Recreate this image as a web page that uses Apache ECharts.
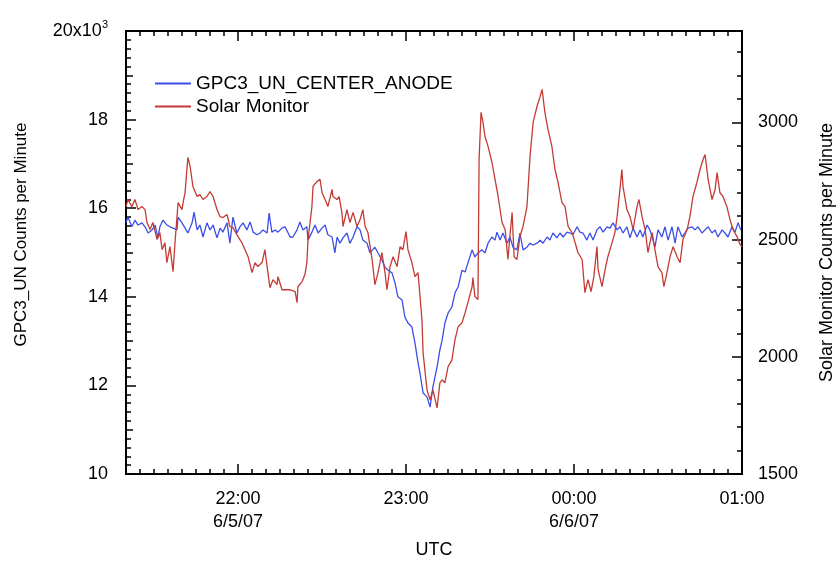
<!DOCTYPE html>
<html>
<head>
<meta charset="utf-8">
<script src="https://cdn.jsdelivr.net/npm/echarts@6/dist/echarts.min.js"></script>
<style>html,body{margin:0;padding:0;background:#fff}#chart{width:836px;height:564px}</style>
</head>
<body>
<div id="chart"></div>
<script>
// time = minutes after 21:00 UTC on 6/5/07
const gpcTimes = [20,20.7,22.1,23.2,24.3,25.7,26.8,27.9,29.3,30.4,31.4,32.1,33.2,34.6,35.7,36.8,38.2,38.6,40.0,41.1,
  42.1,43.6,44.3,45.4,46.4,47.5,48.9,50.0,51.1,52.5,53.6,54.6,56.1,57.1,58.2,59.6,60.7,61.8,63.2,64.3,
  65.4,66.8,67.9,68.9,70.4,71.1,72.1,73.2,74.3,75.7,76.8,78.6,79.6,81.1,82.1,83.2,84.6,85.0,86.4,87.5,
  88.6,90.0,91.1,92.1,93.6,94.6,95.4,96.4,97.5,98.9,100.0,101.1,102.5,103.6,104.6,106.1,107.1,108.9,110.0,111.4,
  112.5,113.6,115.0,116.1,117.1,118.6,119.6,120.7,122.1,123.2,124.3,125.0,126.1,127.5,128.6,129.6,131.1,132.1,132.9,133.9,
  135.0,136.4,137.5,138.6,140.0,141.1,142.1,143.6,144.6,145.7,147.1,148.2,149.3,150.7,151.8,152.5,153.6,154.6,156.1,157.1,
  158.2,159.6,160.7,161.8,163.2,164.3,165.4,166.8,167.9,168.9,170.4,171.4,172.5,173.9,175.0,176.1,177.5,178.6,179.6,181.1,
  182.1,183.2,184.6,185.7,186.8,188.2,189.3,190.4,191.8,192.9,193.9,195.4,196.4,197.5,198.9,200.0,201.1,202.5,203.6,204.6,
  206.1,207.1,208.2,208.9,210.0,211.4,212.5,213.6,215.0,216.1,217.1,218.6,219.6,220.7,222.1,223.2,224.3,225.7,226.8,227.9,
  229.3,230.4,231.4,232.9,233.9,235.0,236.4,237.5,238.6,239.6];
// thousands of counts per minute
const gpcCounts = [15.67,15.80,15.58,15.73,15.62,15.67,15.58,15.44,15.51,15.62,15.33,15.58,15.73,15.62,15.58,15.55,15.51,15.80,15.67,15.55,
  15.44,15.67,15.91,15.51,15.62,15.35,15.67,15.51,15.62,15.33,15.55,15.46,15.67,15.21,15.80,15.44,15.58,15.67,15.51,15.69,
  15.46,15.40,15.44,15.51,15.44,15.89,15.46,15.51,15.46,15.55,15.58,15.35,15.35,15.51,15.69,15.51,15.58,15.28,15.46,15.62,
  15.44,15.55,15.62,15.40,15.35,14.99,15.35,15.21,15.33,15.44,15.21,15.35,15.58,15.51,15.28,15.21,14.99,15.12,14.99,14.83,
  14.67,14.60,14.54,14.31,14.00,13.93,13.54,13.41,13.32,12.96,12.51,12.28,11.83,11.74,11.51,11.96,12.42,12.80,13.02,13.41,
  13.63,13.77,14.09,14.22,14.60,14.56,14.76,15.06,14.90,14.99,15.06,14.99,15.21,15.35,15.28,15.46,15.28,15.44,15.21,15.35,
  15.12,15.06,15.44,15.06,15.12,15.21,15.17,15.21,15.28,15.21,15.35,15.28,15.44,15.33,15.44,15.35,15.46,15.44,15.40,15.58,
  15.46,15.44,15.28,15.44,15.28,15.51,15.58,15.46,15.58,15.55,15.67,15.51,15.58,15.44,15.58,15.33,15.55,15.35,15.51,15.35,
  15.62,15.51,15.28,15.12,15.51,15.35,15.58,15.28,15.58,15.21,15.58,15.35,15.44,15.55,15.58,15.51,15.58,15.44,15.51,15.58,
  15.44,15.51,15.35,15.51,15.44,15.35,15.58,15.46,15.67,15.51];

const solarTimes = [20,20.7,22.1,23.2,24.3,25.7,26.8,27.5,28.6,29.6,31.1,32.1,32.9,33.9,34.6,35.7,36.8,37.5,38.6,40.0,
  40.4,41.1,42.1,42.9,43.9,45.4,46.4,47.5,48.9,50.0,51.1,52.5,53.6,54.6,56.1,57.1,58.2,60.0,61.4,62.5,
  63.6,65.0,66.1,67.1,68.6,69.6,70.4,71.4,72.5,73.9,74.3,75.7,76.8,78.6,80.4,81.1,81.4,82.9,83.9,84.6,
  85.0,86.4,86.8,88.2,89.3,90.0,91.1,92.1,93.6,93.9,95.4,96.1,97.1,97.5,98.9,100.0,101.1,102.5,103.6,104.6,
  105.4,106.4,107.9,108.9,110.0,111.4,112.5,113.2,114.3,115.4,116.8,117.9,118.9,120.0,120.7,122.1,123.2,124.3,125.7,126.1,
  127.5,128.6,129.6,131.1,132.1,132.9,133.9,135.0,136.4,137.5,138.6,140.0,141.1,142.1,143.6,143.9,144.6,145.7,146.1,146.8,
  147.5,148.2,149.3,150.7,151.8,152.9,154.3,155.4,156.4,157.1,157.9,158.6,159.6,160.7,161.8,163.2,164.3,165.4,166.8,167.9,
  168.6,169.6,170.7,172.1,173.2,174.3,175.7,176.8,177.9,179.3,180.4,181.4,182.9,183.9,185.0,186.1,187.1,188.2,188.6,190.0,
  191.1,192.1,193.6,194.6,195.4,196.4,197.1,197.5,198.9,200.0,201.1,202.5,203.2,204.3,205.4,206.4,207.9,208.9,210.0,211.4,
  212.1,213.2,214.3,215.4,216.8,217.9,218.9,220.4,221.4,222.5,223.9,225.0,226.1,226.8,227.9,229.3,230.4,231.1,232.1,233.2,
  234.6,235.7,236.8,238.2,239.3,240];
const solarCounts = [2641,2671,2641,2671,2628,2641,2628,2573,2543,2573,2500,2530,2457,2487,2402,2470,2363,2487,2658,2628,
  2658,2701,2851,2812,2727,2684,2692,2671,2684,2705,2684,2628,2598,2594,2607,2556,2551,2513,2487,2457,
  2427,2359,2402,2385,2402,2457,2385,2295,2329,2308,2342,2286,2286,2286,2278,2231,2299,2321,2351,2402,
  2500,2641,2727,2748,2757,2701,2671,2641,2714,2684,2671,2684,2616,2556,2628,2573,2616,2556,2586,2628,
  2556,2530,2415,2308,2359,2445,2359,2286,2385,2427,2385,2470,2457,2534,2457,2402,2342,2359,2158,2017,
  1859,1816,1859,1782,1889,1902,1889,1957,1987,2073,2128,2145,2188,2231,2299,2338,2257,2244,2842,3043,
  3000,2940,2898,2829,2757,2684,2573,2543,2415,2513,2616,2427,2415,2513,2556,2641,2855,3000,3069,3111,
  3141,3043,2970,2898,2799,2744,2658,2641,2556,2530,2487,2445,2415,2274,2329,2278,2342,2470,2372,2299,
  2372,2427,2487,2530,2598,2714,2799,2727,2628,2598,2543,2641,2671,2598,2543,2445,2530,2457,2385,2359,
  2299,2359,2427,2470,2427,2402,2500,2543,2598,2684,2744,2799,2842,2863,2757,2671,2714,2786,2701,2684,
  2641,2586,2543,2513,2479,2470];

const hourTicks = [60, 120, 180, 240];
const hourLabels = ['22:00\n6/5/07', '23:00', '00:00\n6/6/07', '01:00'];

const font = 'Liberation Sans';
const black = '#000';
const chart = echarts.init(document.getElementById('chart'));

const hidden = { show: false };
const frameLine = { show: true, lineStyle: { color: black, width: 2 } };

function xAxisFor(pos, major) {
  const ax = {
    type: 'value', position: pos, min: 20, max: 240,
    splitLine: hidden, axisLine: frameLine,
    axisTick: { inside: true, length: major ? 10 : 5, lineStyle: { color: black, width: 1.5 } },
    axisLabel: hidden
  };
  if (major) {
    ax.axisTick.customValues = hourTicks;
  } else {
    ax.interval = 5;
  }
  return ax;
}

const xBottom = xAxisFor('bottom', true);
xBottom.axisLabel = {
  show: true, customValues: hourTicks, margin: 14, color: black, fontFamily: font, fontSize: 18, lineHeight: 23,
  formatter: v => hourLabels[hourTicks.indexOf(v)]
};
xBottom.name = 'UTC';
xBottom.nameLocation = 'middle';
xBottom.nameGap = 67;
xBottom.nameTextStyle = { color: black, fontFamily: font, fontSize: 18 };

const option = {
  animation: false,
  backgroundColor: '#fff',
  grid: { left: 126, right: 94, top: 31, bottom: 90, containLabel: false, outerBoundsMode: 'none' },
  legend: {
    left: 150, top: 69, orient: 'vertical', itemGap: 4, itemWidth: 36, itemHeight: 2, icon: 'rect',
    textStyle: { color: black, fontFamily: font, fontSize: 19 },
    data: ['GPC3_UN_CENTER_ANODE', 'Solar Monitor']
  },
  xAxis: [xBottom, xAxisFor('bottom', false), xAxisFor('top', true), xAxisFor('top', false)],
  yAxis: [
    {
      type: 'value', position: 'left', min: 10, max: 20, interval: 2,
      splitLine: hidden, axisLine: frameLine,
      axisTick: { inside: true, length: 10, lineStyle: { color: black, width: 1.5 } },
      minorTick: { show: true, splitNumber: 10, length: 5, lineStyle: { color: black, width: 1.5 } },
      axisLabel: {
        margin: 18, color: black, fontFamily: font, fontSize: 18,
        formatter: v => v === 20 ? '{n|20x10}{s|3}' : '{n|' + v + '}',
        rich: {
          n: { fontFamily: font, fontSize: 18, color: black },
          s: { fontFamily: font, fontSize: 11, color: black, verticalAlign: 'top', padding: [0, 0, 12, 0] }
        }
      },
      name: 'GPC3_UN Counts per Minute', nameLocation: 'middle', nameGap: 96, nameRotate: 90,
      nameTextStyle: { color: black, fontFamily: font, fontSize: 17, padding: [0, 0, 0, 36] }
    },
    {
      type: 'value', position: 'left', min: 10, max: 20, interval: 1,
      splitLine: hidden, axisLine: hidden, axisLabel: hidden,
      axisTick: { inside: true, length: 7, lineStyle: { color: black, width: 1.5 } }
    },
    {
      type: 'value', position: 'right', min: 1500, max: 3390, interval: 500,
      splitLine: hidden, axisLine: frameLine,
      axisTick: { inside: true, length: 10, lineStyle: { color: black, width: 1.5 } },
      axisLabel: { margin: 16, color: black, fontFamily: font, fontSize: 18, showMaxLabel: false, formatter: v => String(v) },
      name: 'Solar Monitor Counts per Minute', nameLocation: 'middle', nameGap: 76, nameRotate: 90,
      nameTextStyle: { color: black, fontFamily: font, fontSize: 18 }
    },
    {
      type: 'value', position: 'right', min: 1500, max: 3390, interval: 100,
      splitLine: hidden, axisLine: hidden, axisLabel: hidden,
      axisTick: { inside: true, length: 5, lineStyle: { color: black, width: 1.5 } }
    }
  ],
  series: [
    {
      name: 'GPC3_UN_CENTER_ANODE', type: 'line', xAxisIndex: 0, yAxisIndex: 0,
      showSymbol: false, symbol: 'none', color: '#3b4ee6',
      lineStyle: { color: '#3b4ee6', width: 1.3 },
      data: gpcTimes.map((t, i) => [t, gpcCounts[i]])
    },
    {
      name: 'Solar Monitor', type: 'line', xAxisIndex: 0, yAxisIndex: 2,
      showSymbol: false, symbol: 'none', color: '#c43b35',
      lineStyle: { color: '#c43b35', width: 1.3 },
      data: solarTimes.map((t, i) => [t, solarCounts[i]])
    }
  ]
};

chart.setOption(option);
</script>
</body>
</html>
